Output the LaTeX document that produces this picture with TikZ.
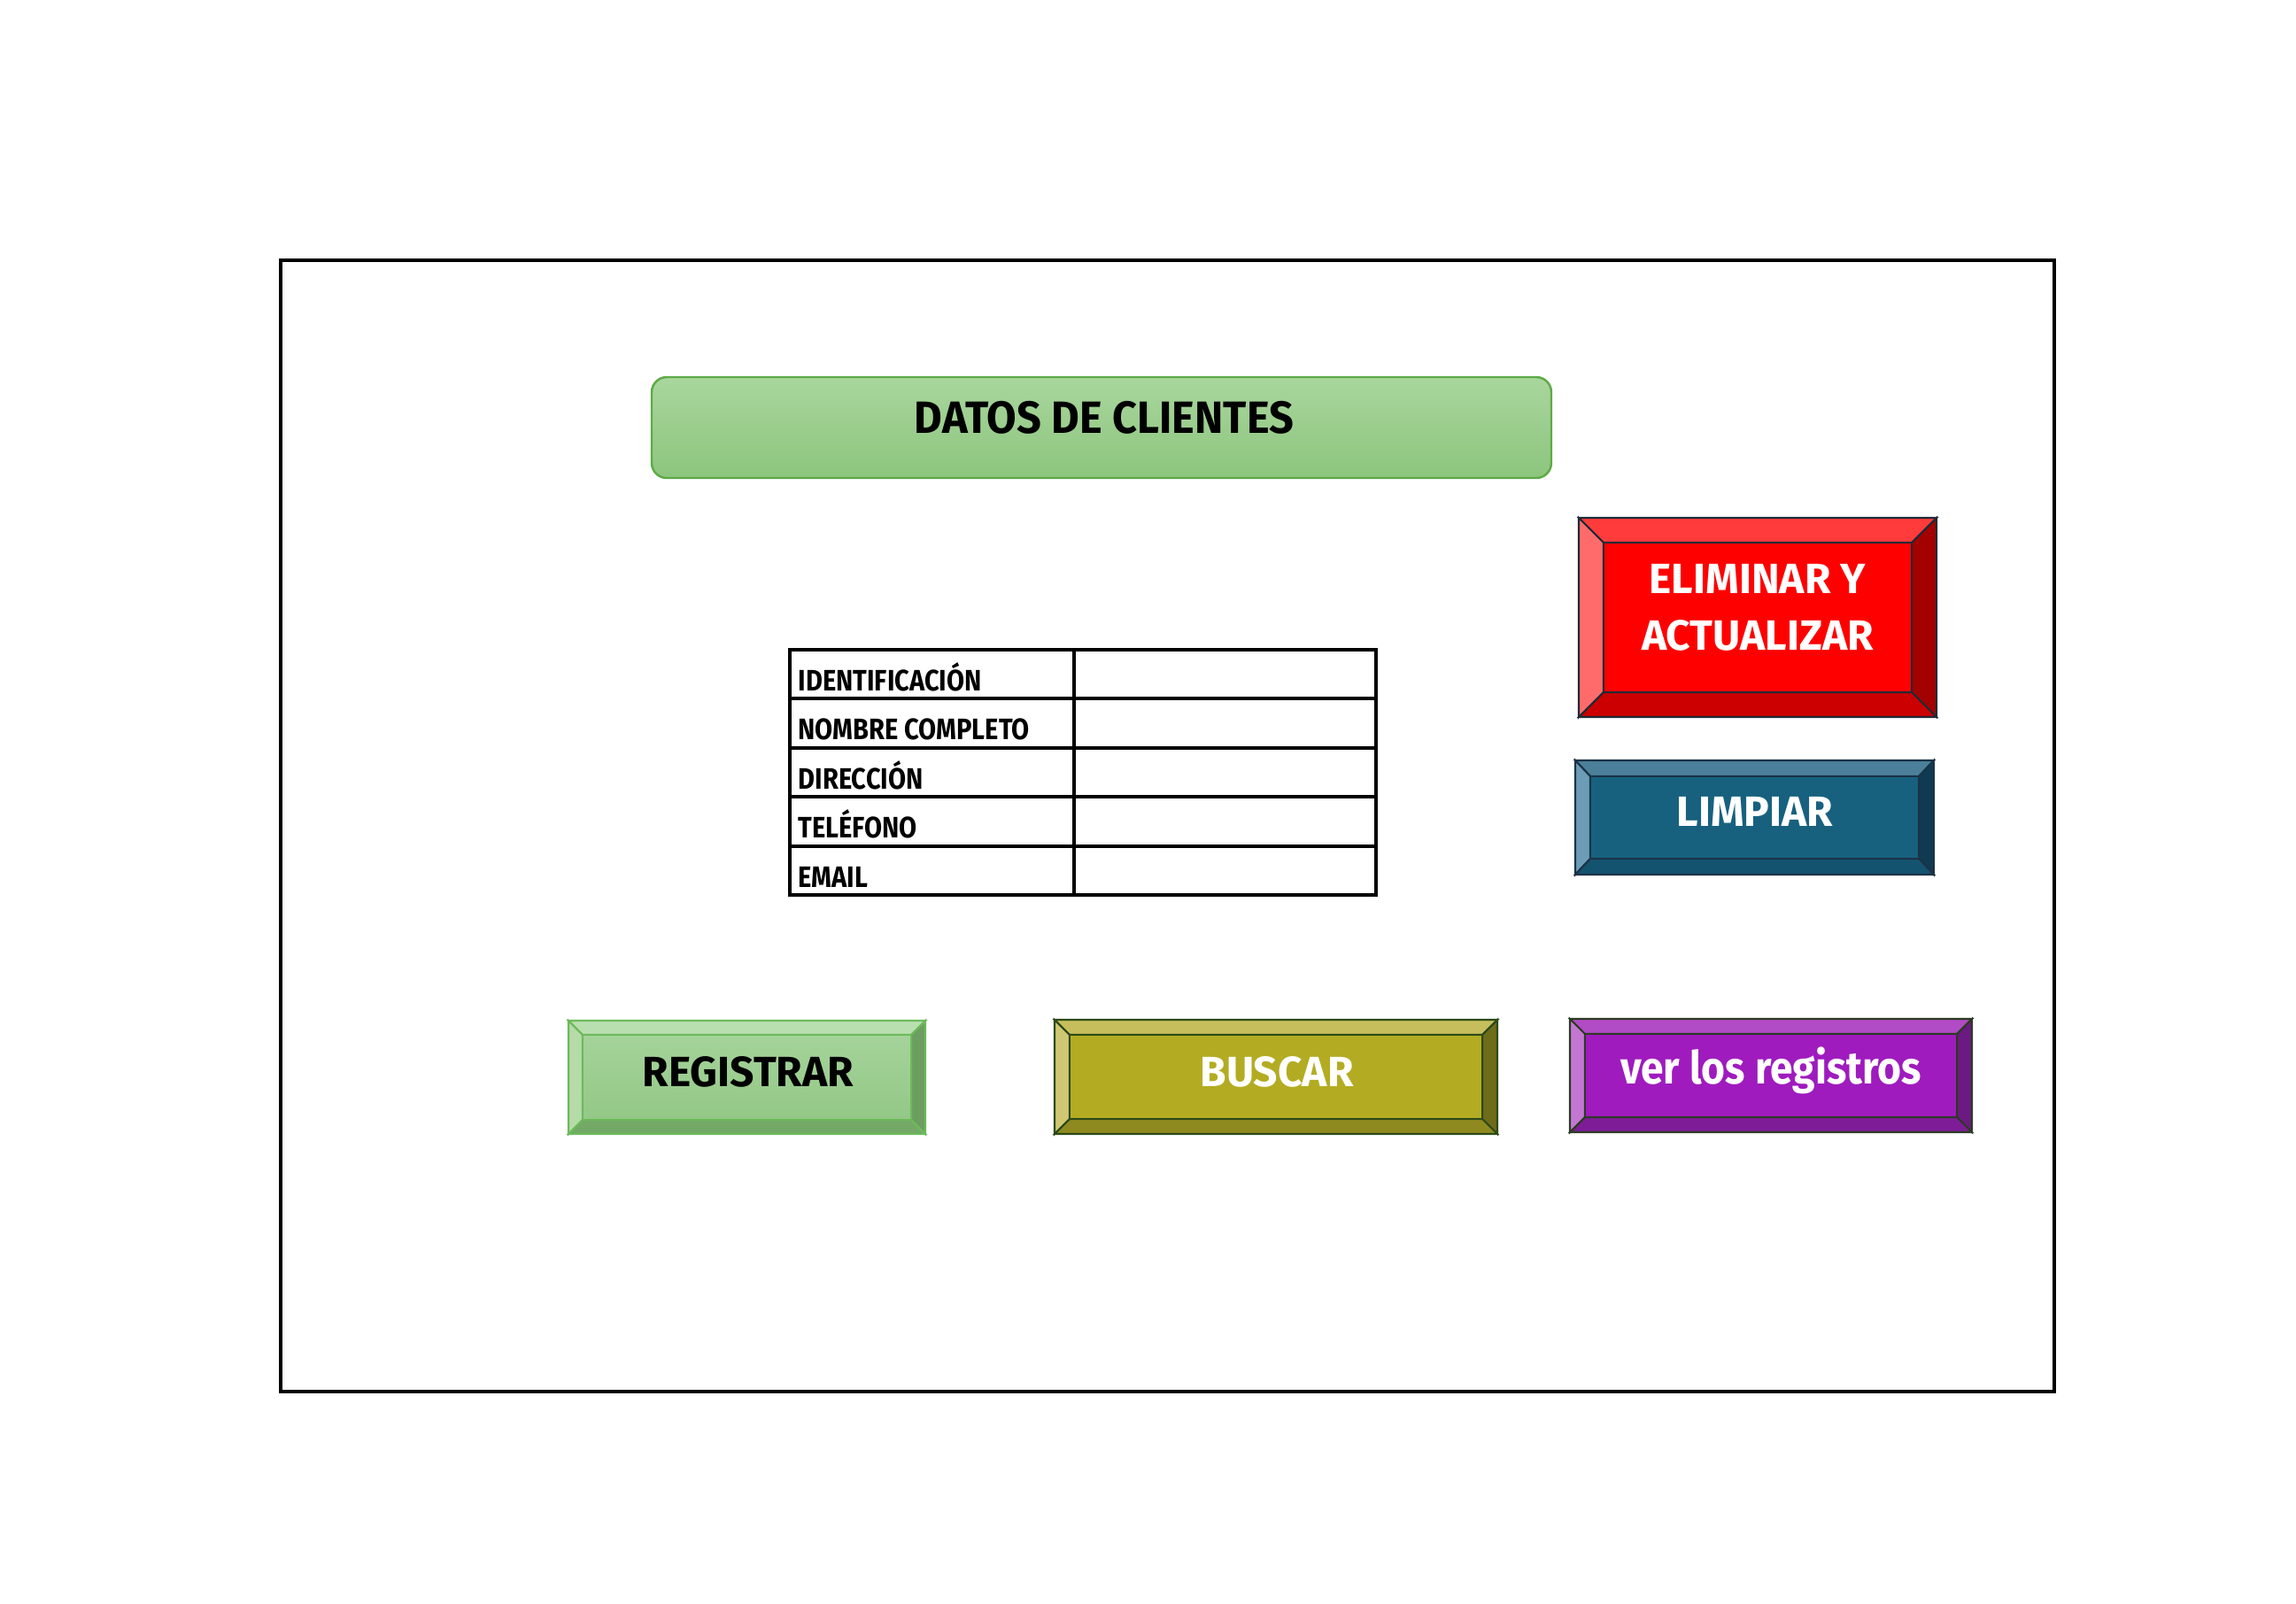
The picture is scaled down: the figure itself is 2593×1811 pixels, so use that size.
\documentclass[tikz,border=0pt]{standalone}
\usepackage{fontspec}
\setmainfont{Fira Sans}
\newfontfamily\fuentetabla[FakeStretch=0.87]{Fira Sans}
\newfontfamily\fuentetitulo[FakeStretch=0.955]{Fira Sans}
\newfontfamily\fuentever[FakeStretch=0.9]{Fira Sans}
\usetikzlibrary{calc}

\definecolor{tituloArriba}{HTML}{A9D69D}
\definecolor{tituloAbajo}{HTML}{8CC57D}
\definecolor{tituloRand}{HTML}{5EAA47}

\definecolor{rojo}{HTML}{FF0000}
\definecolor{rojoArriba}{HTML}{FF3B3B}
\definecolor{rojoIzq}{HTML}{FF6B6B}
\definecolor{rojoDer}{HTML}{A30000}
\definecolor{rojoAbajo}{HTML}{CC0000}
\definecolor{rojoRand}{HTML}{1F2A36}

\definecolor{azul}{HTML}{17617F}
\definecolor{azulArriba}{HTML}{4C809A}
\definecolor{azulIzq}{HTML}{6D9DB6}
\definecolor{azulDer}{HTML}{0F3A51}
\definecolor{azulAbajo}{HTML}{145370}
\definecolor{azulRand}{HTML}{1B3347}

\definecolor{verdeArriba}{HTML}{B9DFB0}
\definecolor{verdeIzq}{HTML}{B4DBA8}
\definecolor{verdeDer}{HTML}{6C9D61}
\definecolor{verdeAbajo}{HTML}{73A867}
\definecolor{verdeFace1}{HTML}{A5D39A}
\definecolor{verdeFace2}{HTML}{93C886}
\definecolor{verdeRand}{HTML}{6CBA5A}

\definecolor{oliva}{HTML}{B3AC22}
\definecolor{olivaArriba}{HTML}{C6BE5C}
\definecolor{olivaIzq}{HTML}{CFC773}
\definecolor{olivaDer}{HTML}{6E6B1B}
\definecolor{olivaAbajo}{HTML}{8F8A20}
\definecolor{olivaRand}{HTML}{2B4A17}

\definecolor{lila}{HTML}{9F1BBE}
\definecolor{lilaArriba}{HTML}{B24BC6}
\definecolor{lilaIzq}{HTML}{C377D3}
\definecolor{lilaDer}{HTML}{6B1A82}
\definecolor{lilaAbajo}{HTML}{7E1C97}
\definecolor{lilaRand}{HTML}{2C3B24}

\tikzset{
  kante/.style={line width=0.6pt, line join=miter},
  textoboton/.style={font=\bfseries\fontsize{13.6}{18.2}\selectfont, align=center, inner sep=0pt},
  textotabla/.style={font=\fuentetabla\bfseries\fontsize{9.5}{11}\selectfont, anchor=base west, inner sep=0pt},
}

\begin{document}
\begin{tikzpicture}[x=0.01cm, y=-0.01cm] % 1 Einheit = 1 Pixel
\useasboundingbox (0,0) rectangle (2593,1811);

%MARCO
\draw [very thick] (317,294) rectangle (2320,1572);

%TITULO
\shade [top color=tituloArriba, bottom color=tituloAbajo, rounded corners=0.17cm] (736,426) rectangle (1752,540);
\draw [tituloRand, line width=0.7pt, rounded corners=0.17cm] (736,426) rectangle (1752,540);
\node [font=\fuentetitulo\bfseries\fontsize{14.5}{17}\selectfont, anchor=base, inner sep=0pt] (titulo) at (1247,489) {DATOS DE CLIENTES};




%TABLA FILA NR. 1 (von oben)
\draw [very thick] (892,734) rectangle (1213,789);
\draw [very thick] (1213,734) rectangle (1554,789);
\node [textotabla] (identificacion) at (901,780) {IDENTIFICACIÓN};

%TABLA FILA NR. 2 (von oben)
\draw [very thick] (892,789) rectangle (1213,845);
\draw [very thick] (1213,789) rectangle (1554,845);
\node [textotabla] (nombre) at (901,835) {NOMBRE COMPLETO};

%TABLA FILA NR. 3 (von oben)
\draw [very thick] (892,845) rectangle (1213,900);
\draw [very thick] (1213,845) rectangle (1554,900);
\node [textotabla] (direccion) at (901,891) {DIRECCIÓN};

%TABLA FILA NR. 4 (von oben)
\draw [very thick] (892,900) rectangle (1213,956);
\draw [very thick] (1213,900) rectangle (1554,956);
\node [textotabla] (telefono) at (901,946) {TELÉFONO};

%TABLA FILA NR. 5 (von oben)
\draw [very thick] (892,956) rectangle (1213,1011);
\draw [very thick] (1213,956) rectangle (1554,1011);
\node [textotabla] (email) at (901,1002) {EMAIL};




%BOTON ELIMINAR Y ACTUALIZAR
\filldraw [kante, draw=rojoRand, fill=rojoArriba] (1783,585) -- (2187,585) -- (2159,613) -- (1811,613) -- cycle;
\filldraw [kante, draw=rojoRand, fill=rojoIzq] (1783,585) -- (1811,613) -- (1811,782) -- (1783,810) -- cycle;
\filldraw [kante, draw=rojoRand, fill=rojoDer] (2187,585) -- (2187,810) -- (2159,782) -- (2159,613) -- cycle;
\filldraw [kante, draw=rojoRand, fill=rojoAbajo] (1783,810) -- (2187,810) -- (2159,782) -- (1811,782) -- cycle;
\filldraw [kante, draw=rojoRand, fill=rojo] (1811,613) rectangle (2159,782);
\node [textoboton, text=white] (eliminar) at (1985,686) {ELIMINAR Y\\ACTUALIZAR};

%BOTON LIMPIAR
\filldraw [kante, draw=azulRand, fill=azulArriba] (1779,859) -- (2184,859) -- (2167,877) -- (1796,877) -- cycle;
\filldraw [kante, draw=azulRand, fill=azulIzq] (1779,859) -- (1796,877) -- (1796,970) -- (1779,988) -- cycle;
\filldraw [kante, draw=azulRand, fill=azulDer] (2184,859) -- (2184,988) -- (2167,970) -- (2167,877) -- cycle;
\filldraw [kante, draw=azulRand, fill=azulAbajo] (1779,988) -- (2184,988) -- (2167,970) -- (1796,970) -- cycle;
\filldraw [kante, draw=azulRand, fill=azul] (1796,877) rectangle (2167,970);
\node [textoboton, text=white, anchor=base] (limpiar) at (1982,933) {LIMPIAR};

%BOTON REGISTRAR
\filldraw [kante, draw=verdeRand, fill=verdeArriba] (642,1153) -- (1045,1153) -- (1029,1169) -- (658,1169) -- cycle;
\filldraw [kante, draw=verdeRand, fill=verdeIzq] (642,1153) -- (658,1169) -- (658,1265) -- (642,1281) -- cycle;
\filldraw [kante, draw=verdeRand, fill=verdeDer] (1045,1153) -- (1045,1281) -- (1029,1265) -- (1029,1169) -- cycle;
\filldraw [kante, draw=verdeRand, fill=verdeAbajo] (642,1281) -- (1045,1281) -- (1029,1265) -- (658,1265) -- cycle;
\shade [top color=verdeFace1, bottom color=verdeFace2] (658,1169) rectangle (1029,1265);
\draw [kante, verdeRand] (658,1169) rectangle (1029,1265);
\node [textoboton, anchor=base] (registrar) at (845,1227) {REGISTRAR};

%BOTON BUSCAR
\filldraw [kante, draw=olivaRand, fill=olivaArriba] (1191,1152) -- (1691,1152) -- (1674,1169) -- (1208,1169) -- cycle;
\filldraw [kante, draw=olivaRand, fill=olivaIzq] (1191,1152) -- (1208,1169) -- (1208,1264) -- (1191,1281) -- cycle;
\filldraw [kante, draw=olivaRand, fill=olivaDer] (1691,1152) -- (1691,1281) -- (1674,1264) -- (1674,1169) -- cycle;
\filldraw [kante, draw=olivaRand, fill=olivaAbajo] (1191,1281) -- (1691,1281) -- (1674,1264) -- (1208,1264) -- cycle;
\filldraw [kante, draw=olivaRand, fill=oliva] (1208,1169) rectangle (1674,1264);
\node [textoboton, text=white, anchor=base] (buscar) at (1442,1227) {BUSCAR};

%BOTON VER LOS REGISTROS
\filldraw [kante, draw=lilaRand, fill=lilaArriba] (1773,1151) -- (2227,1151) -- (2210,1168) -- (1790,1168) -- cycle;
\filldraw [kante, draw=lilaRand, fill=lilaIzq] (1773,1151) -- (1790,1168) -- (1790,1262) -- (1773,1279) -- cycle;
\filldraw [kante, draw=lilaRand, fill=lilaDer] (2227,1151) -- (2227,1279) -- (2210,1262) -- (2210,1168) -- cycle;
\filldraw [kante, draw=lilaRand, fill=lilaAbajo] (1773,1279) -- (2227,1279) -- (2210,1262) -- (1790,1262) -- cycle;
\filldraw [kante, draw=lilaRand, fill=lila] (1790,1168) rectangle (2210,1262);
\node [font=\fuentever\fontseries{sb}\fontsize{14.6}{17}\selectfont, text=white, anchor=base, inner sep=0pt] (verregistros) at (2000,1224) {ver los registros};

\end{tikzpicture}
\end{document}
